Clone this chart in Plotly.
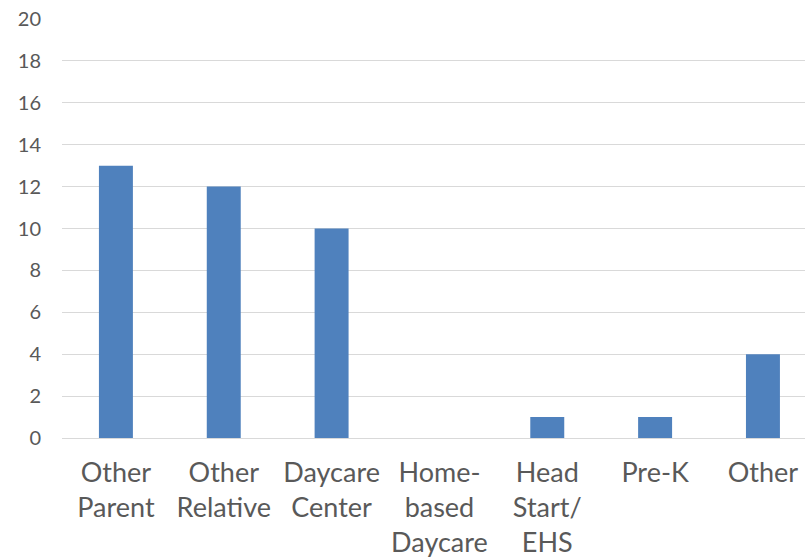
import plotly.graph_objects as go

categories = ["Other<br>Parent", "Other<br>Relative", "Daycare<br>Center",
              "Home-<br>based<br>Daycare", "Head<br>Start/<br>EHS", "Pre-K", "Other"]
values = [13, 12, 10, 0, 1, 1, 4]
y_ticks = [0, 2, 4, 6, 8, 10, 12, 14, 16, 18, 20]

x_idx = list(range(len(categories)))

fig = go.Figure(go.Bar(x=x_idx, y=values, marker=dict(color="#4F81BD", line=dict(width=0)),
                       width=0.315))

fig.update_layout(
    width=805, height=560,
    margin=dict(l=62, r=0, t=19, b=122),
    plot_bgcolor="white", paper_bgcolor="white",
    font=dict(family="Lato", color="#595959"),
    showlegend=False,
)
fig.update_xaxes(
    tickvals=x_idx, ticktext=categories, range=[-0.5, 6.39],
    tickfont=dict(size=27, color="#595959"), showgrid=False, zeroline=False,
    showline=False, ticks="", ticklabelstandoff=16, automargin=False,
)
fig.update_yaxes(
    range=[0, 20], tickvals=y_ticks, tickfont=dict(size=20, color="#595959"),
    showgrid=True, gridcolor="#d9d9d9", gridwidth=1.3, zeroline=True,
    zerolinecolor="#d9d9d9", zerolinewidth=1.3, showline=False, ticks="",
    ticklabelstandoff=20, automargin=False,
)
fig.write_html("out.html")
